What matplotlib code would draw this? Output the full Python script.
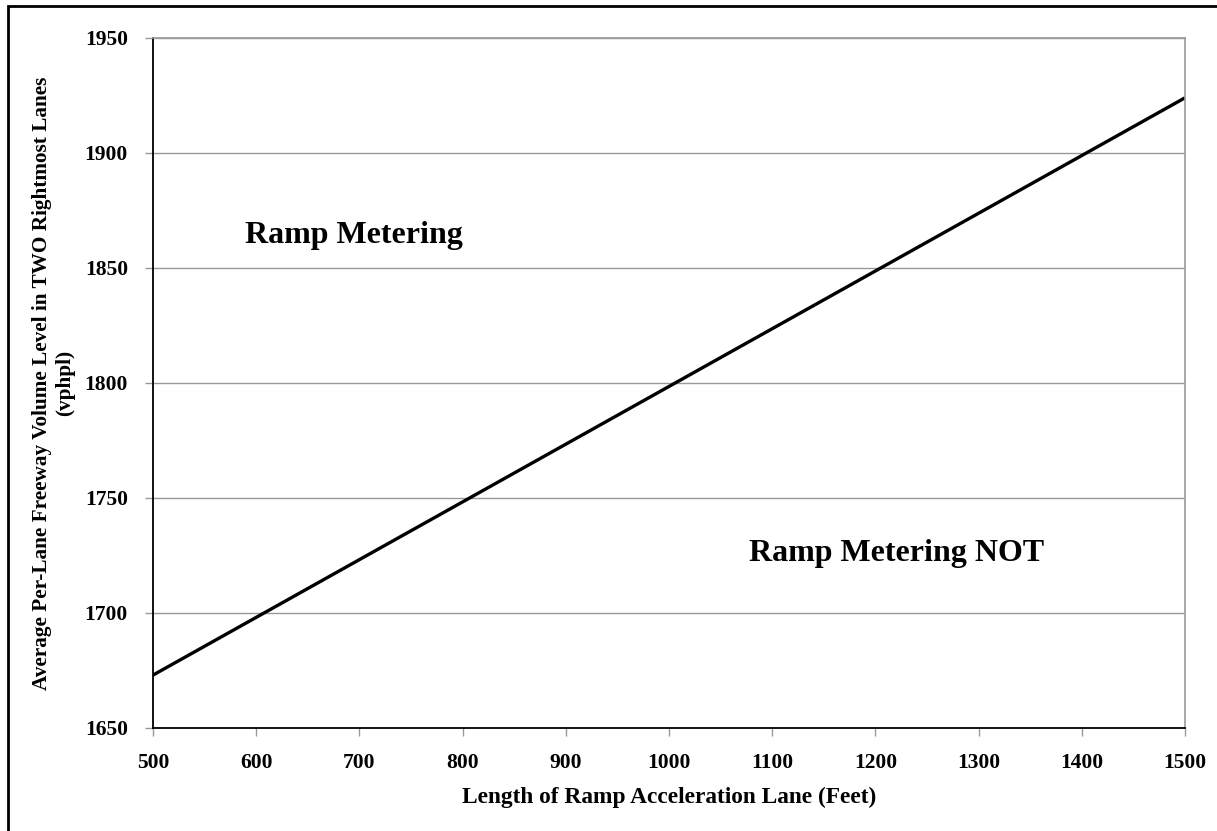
import matplotlib.pyplot as plt
from matplotlib.patches import Rectangle

# data
ramp_length = [500, 1500]
volume_level = [1673, 1924]
x_ticks = [500, 600, 700, 800, 900, 1000, 1100, 1200, 1300, 1400, 1500]
y_ticks = [1650, 1700, 1750, 1800, 1850, 1900, 1950]

plt.rcParams['font.family'] = ['Liberation Serif', 'DejaVu Serif']
plt.rcParams['font.weight'] = 'bold'

fig = plt.figure(figsize=(12.17, 8.31), dpi=100)
ax = fig.add_axes([153 / 1217, 103 / 831, 1032 / 1217, 690 / 831])

ax.plot(ramp_length, volume_level, color='black', lw=2.4, solid_capstyle='butt')

ax.set_xlim(500, 1500)
ax.set_ylim(1650, 1950)
ax.set_xticks(x_ticks)
ax.set_yticks(y_ticks)
ax.grid(True, axis='y', color='#999999', lw=1)
ax.set_axisbelow(True)

for s in ['left', 'bottom']:
    ax.spines[s].set_color('black')
    ax.spines[s].set_linewidth(1.3)
for s in ['top', 'right']:
    ax.spines[s].set_color('#999999')
    ax.spines[s].set_linewidth(1.2)

ax.tick_params(axis='both', direction='out', length=6, width=1, color='#999999',
               labelsize=15.5, pad=12)
for lab in ax.get_xticklabels() + ax.get_yticklabels():
    lab.set_fontweight('bold')

ax.set_xlabel('Length of Ramp Acceleration Lane (Feet)', fontsize=16.8,
              fontweight='bold', labelpad=10)
ax.set_ylabel('Average Per-Lane Freeway Volume Level in TWO Rightmost Lanes\n(vphpl)',
              fontsize=15.3, fontweight='bold', labelpad=7, linespacing=1.2)

ax.text(589, 1864, 'Ramp Metering', fontsize=23, fontweight='bold',
        ha='left', va='center')
ax.text(1078, 1726, 'Ramp Metering NOT', fontsize=23, fontweight='bold',
        ha='left', va='center')

# outer border (right and bottom edges fall outside the image)
fig.patches.append(Rectangle((8 / 1217, -0.05), 1.1, 0.05 + (831 - 6) / 831,
                             transform=fig.transFigure, fill=False,
                             edgecolor='black', lw=2))

fig.savefig('out.png', dpi=100)
